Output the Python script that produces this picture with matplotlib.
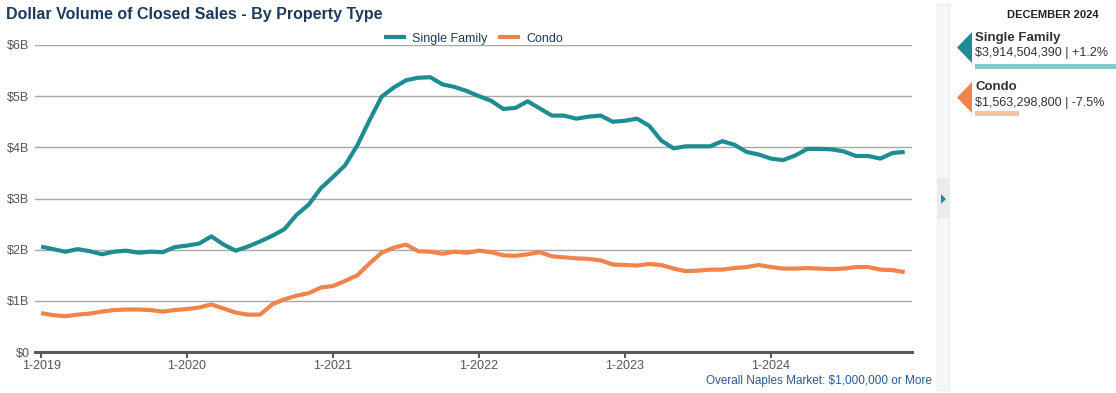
import matplotlib.pyplot as plt
from matplotlib.patches import Polygon, Rectangle

plt.rcParams['font.family'] = ['Liberation Sans', 'DejaVu Sans']

# monthly values, Jan 2019 .. Dec 2024, in $ billions
single_family = [
    2.06, 2.01, 1.96, 2.01, 1.97, 1.91, 1.96, 1.98, 1.94, 1.96, 1.95, 2.05,
    2.08, 2.12, 2.26, 2.10, 1.98, 2.06, 2.16, 2.27, 2.40, 2.68, 2.88, 3.20,
    3.42, 3.65, 4.04, 4.53, 4.99, 5.17, 5.31, 5.36, 5.37, 5.23, 5.18, 5.10,
    5.00, 4.91, 4.75, 4.77, 4.90, 4.76, 4.62, 4.62, 4.56, 4.60, 4.62, 4.50,
    4.52, 4.56, 4.42, 4.13, 3.98, 4.02, 4.02, 4.02, 4.12, 4.05, 3.91, 3.86,
    3.78, 3.75, 3.84, 3.97, 3.97, 3.96, 3.92, 3.83, 3.83, 3.78, 3.89, 3.91,
]
condo = [
    0.76, 0.72, 0.70, 0.73, 0.75, 0.79, 0.82, 0.83, 0.83, 0.82, 0.79, 0.82,
    0.84, 0.87, 0.93, 0.85, 0.77, 0.73, 0.73, 0.93, 1.03, 1.10, 1.15, 1.26,
    1.29, 1.39, 1.50, 1.73, 1.94, 2.04, 2.10, 1.97, 1.96, 1.92, 1.96, 1.94,
    1.98, 1.95, 1.89, 1.88, 1.91, 1.95, 1.87, 1.85, 1.83, 1.82, 1.79, 1.71,
    1.70, 1.69, 1.72, 1.70, 1.63, 1.58, 1.59, 1.61, 1.61, 1.64, 1.66, 1.70,
    1.66, 1.63, 1.63, 1.64, 1.63, 1.62, 1.63, 1.66, 1.66, 1.61, 1.60, 1.56,
]
x_ticks = [0, 12, 24, 36, 48, 60]
x_labels = ["1-2019", "1-2020", "1-2021", "1-2022", "1-2023", "1-2024"]
y_ticks = [0, 1, 2, 3, 4, 5, 6]
y_labels = ["$0", "$1B", "$2B", "$3B", "$4B", "$5B", "$6B"]

TEAL = "#1f8c91"
ORANGE = "#f0844c"
NAVY = "#1e3a5a"
W, H = 1116, 393

fig = plt.figure(figsize=(W / 100, H / 100), dpi=100)
ax = fig.add_axes([35 / W, 1 - 352 / H, (912 - 35) / W, (352 - 45) / H])

months = list(range(len(single_family)))
ax.plot(months, single_family, color=TEAL, lw=3, label="Single Family", solid_capstyle="butt")
ax.plot(months, condo, color=ORANGE, lw=3, label="Condo", solid_capstyle="butt")

ax.set_xlim(-0.5, 71.6)
ax.set_ylim(0, 6)
ax.set_yticks(y_ticks)
ax.set_yticklabels(y_labels)
ax.set_xticks(x_ticks)
ax.set_xticklabels(x_labels)
ax.grid(axis="y", color="#a8a8a8", lw=1)
ax.set_axisbelow(True)
for s in ["top", "right", "left"]:
    ax.spines[s].set_visible(False)
ax.spines["bottom"].set_color("#5a5a5a")
ax.spines["bottom"].set_linewidth(2.2)
ax.tick_params(axis="y", length=0, pad=4, labelsize=9, labelcolor="#555555")
ax.tick_params(axis="x", length=4, width=1.5, color="#5a5a5a", pad=2,
               labelsize=9, labelcolor="#555555")

leg = ax.legend(loc="lower center", bbox_to_anchor=(0.5, 0.985), ncol=2, frameon=False,
                fontsize=9, handlelength=1.8, handletextpad=0.5, columnspacing=0.8,
                borderaxespad=0)
for t in leg.get_texts():
    t.set_color(NAVY)

fig.text(6 / W, 1 - 14 / H, "Dollar Volume of Closed Sales - By Property Type",
         fontsize=11.5, fontweight="bold", color=NAVY, va="center", ha="left")
fig.text(932 / W, 1 - 381 / H, "Overall Naples Market: $1,000,000 or More",
         fontsize=8.5, color="#2c5a8c", va="center", ha="right")

# side strip
def px_rect(x0, y0, x1, y1, **kw):
    fig.patches.append(Rectangle((x0 / W, 1 - y1 / H), (x1 - x0) / W, (y1 - y0) / H,
                                 transform=fig.transFigure, **kw))

def px_poly(pts, **kw):
    fig.patches.append(Polygon([(x / W, 1 - y / H) for x, y in pts],
                               transform=fig.transFigure, **kw))

px_rect(937, 4, 949, 390, facecolor="#f7f7f7", edgecolor="#ececec", lw=0.8)
px_rect(937, 178, 949, 218, facecolor="#ebebeb", edgecolor="none")
px_poly([(941, 194), (941, 204), (946, 199)], facecolor=TEAL, edgecolor="none")

# right summary panel
fig.text(1053 / W, 1 - 15 / H, "DECEMBER 2024", fontsize=8, fontweight="bold",
         color="#222222", ha="center", va="center")

px_poly([(972, 32), (972, 63), (957, 47.5)], facecolor=TEAL, edgecolor="none")
fig.text(975 / W, 1 - 38 / H, "Single Family", fontsize=9.5, fontweight="bold",
         color="#333333", ha="left", va="center")
fig.text(975 / W, 1 - 53 / H, "$3,914,504,390 | +1.2%", fontsize=9,
         color="#333333", ha="left", va="center")
px_rect(975, 64, 1116, 69, facecolor="#8cc6c8", edgecolor="none")

px_poly([(972, 82), (972, 113), (957, 97.5)], facecolor=ORANGE, edgecolor="none")
fig.text(975 / W, 1 - 87 / H, "Condo", fontsize=9.5, fontweight="bold",
         color="#333333", ha="left", va="center")
fig.text(975 / W, 1 - 103 / H, "$1,563,298,800 | -7.5%", fontsize=9,
         color="#333333", ha="left", va="center")
px_rect(975, 111, 1019, 116, facecolor="#f8c1a2", edgecolor="none")

fig.savefig("out.png", dpi=100, facecolor="white")
